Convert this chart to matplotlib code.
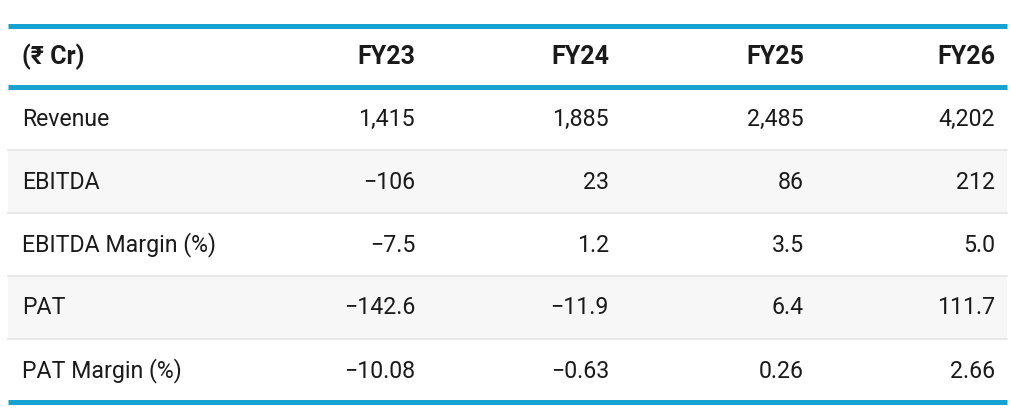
import matplotlib
matplotlib.use('Agg')
import matplotlib.pyplot as plt
from matplotlib.patches import Rectangle

plt.rcParams['font.family'] = ['Roboto', 'DejaVu Sans']

# данные таблицы
header_label = '(₹ Cr)'
years = ['FY23', 'FY24', 'FY25', 'FY26']
row_labels = ['Revenue', 'EBITDA', 'EBITDA Margin (%)', 'PAT', 'PAT Margin (%)']
revenue = ['1,415', '1,885', '2,485', '4,202']
ebitda = ['−106', '23', '86', '212']
ebitda_margin = ['−7.5', '1.2', '3.5', '5.0']
pat = ['−142.6', '−11.9', '6.4', '111.7']
pat_margin = ['−10.08', '−0.63', '0.26', '2.66']
rows = [revenue, ebitda, ebitda_margin, pat, pat_margin]

# геометрия в пикселях
W, H = 1011, 412
X0, X1 = 8, 1007
LABEL_X = 22
COL_RIGHT = [415, 609, 804, 995]
TOP = 25.5
HEAD_BOTTOM = 86.5
ROW_H = 63
BLUE = '#17a2cf'
TEXT = '#1a1a1a'

fig = plt.figure(figsize=(W / 100, H / 100), dpi=100)
ax = fig.add_axes([0, 0, 1, 1])
ax.set_xlim(0, W)
ax.set_ylim(H, 0)
ax.axis('off')

# полосатые строки
for i in range(len(rows)):
    y = HEAD_BOTTOM + i * ROW_H
    if i % 2 == 1:
        ax.add_patch(Rectangle((X0, y), X1 - X0, ROW_H, color='#f7f7f7', lw=0, zorder=0))
    if 0 < i:
        ax.plot([X0, X1], [y, y], color='#e4e4e4', lw=1.2, zorder=1)

# заголовок
hy = (TOP + HEAD_BOTTOM) / 2 + 1
ax.text(LABEL_X, hy, header_label, fontsize=18, fontweight='bold', color=TEXT,
        ha='left', va='center')
for x, yr in zip(COL_RIGHT, years):
    ax.text(x, hy, yr, fontsize=18, fontweight='bold', color=TEXT, ha='right', va='center')

# строки
for i, (lab, vals) in enumerate(zip(row_labels, rows)):
    cy = HEAD_BOTTOM + (i + 0.5) * ROW_H + 1
    ax.text(LABEL_X, cy, lab, fontsize=16.7, color=TEXT, ha='left', va='center')
    for x, v in zip(COL_RIGHT, vals):
        ax.text(x, cy, v, fontsize=16.7, color=TEXT, ha='right', va='center')

# синие линии
bottom = HEAD_BOTTOM + len(rows) * ROW_H
for y in [TOP, HEAD_BOTTOM, bottom]:
    ax.plot([X0, X1], [y, y], color=BLUE, lw=3.6, solid_capstyle='butt', zorder=3)

fig.savefig('out.png', dpi=100)
